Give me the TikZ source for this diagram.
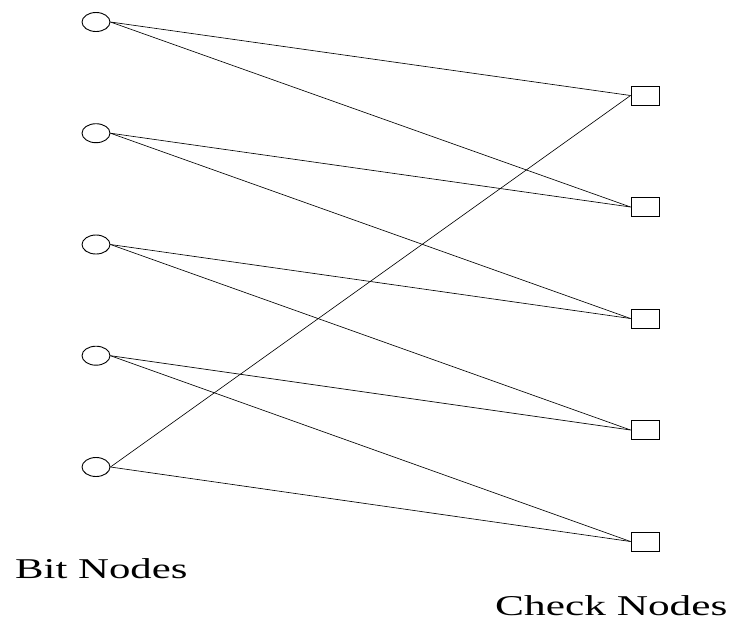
\documentclass[tikz,border=0pt]{standalone}
\usepackage{fontspec}
\setmainfont{Liberation Serif}
\usetikzlibrary{shapes.geometric}
\begin{document}
\begin{tikzpicture}[x=1pt,y=-1pt,
  bitnode/.style={draw,ellipse,line width=0.9pt,minimum width=28pt,minimum height=19pt,inner sep=0pt},
  checknode/.style={draw,rectangle,line width=0.9pt,minimum width=28pt,minimum height=19pt,inner sep=0pt},
  edge/.style={line width=0.65pt},
  lbl/.style={anchor=base west,inner sep=0pt,font=\fontsize{28.7}{30}\selectfont}]
\useasboundingbox (0,0) rectangle (734,625);
\foreach \i/\y in {1/22,2/133.2,3/244.5,4/355.7,5/467}
  \node[bitnode] (b\i) at (96,\y) {};
\foreach \i/\y in {1/95.5,2/207,3/318.5,4/430,5/541.5}
  \node[checknode] (c\i) at (645,\y) {};
\draw[edge] (b1.east) -- (c1.west);
\draw[edge] (b1.east) -- (c2.west);
\draw[edge] (b2.east) -- (c2.west);
\draw[edge] (b2.east) -- (c3.west);
\draw[edge] (b3.east) -- (c3.west);
\draw[edge] (b3.east) -- (c4.west);
\draw[edge] (b4.east) -- (c4.west);
\draw[edge] (b4.east) -- (c5.west);
\draw[edge] (b5.east) -- (c1.west);
\draw[edge] (b5.east) -- (c5.west);
\node[lbl] (bitlbl) at (15,578) {\scalebox{1.49}[1]{Bit Nodes}};
\node[lbl] (chklbl) at (495,615) {\scalebox{1.51}[1]{Check Nodes}};
\end{tikzpicture}
\end{document}
